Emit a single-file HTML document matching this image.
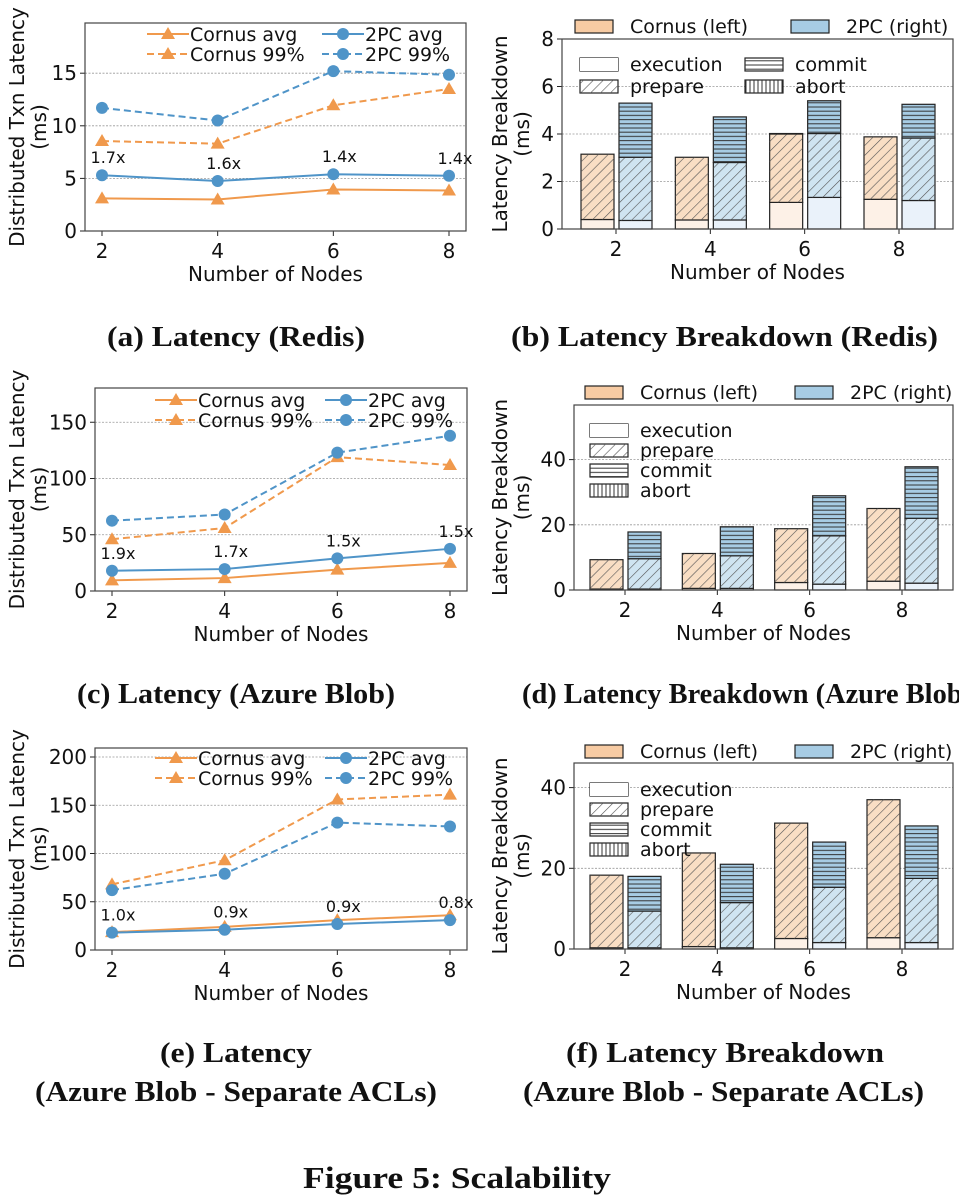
<!DOCTYPE html>
<html><head><meta charset="utf-8"><style>
body{margin:0;background:#fff}
svg text{font-family:"DejaVu Sans","Liberation Sans",sans-serif;fill:#111}
.cap{font-family:"Liberation Serif",serif;font-weight:bold;font-size:28px}
</style></head><body>
<svg id="fig" width="959" height="1199" viewBox="0 0 959 1199" xmlns="http://www.w3.org/2000/svg">
<defs>
<pattern id="hatchD" patternUnits="userSpaceOnUse" width="7" height="7" patternTransform="rotate(45)"><line x1="0" y1="0" x2="0" y2="7" stroke="#555" stroke-width="1.2"/></pattern>
<pattern id="hatchH" patternUnits="userSpaceOnUse" width="4" height="4.2"><line x1="0" y1="2" x2="4" y2="2" stroke="#333" stroke-width="1"/></pattern>
<pattern id="hatchV" patternUnits="userSpaceOnUse" width="4" height="4"><line x1="2" y1="0" x2="2" y2="4" stroke="#333" stroke-width="1"/></pattern>
</defs>
<g id="root"></g>
<text class="cap" lengthAdjust="spacingAndGlyphs" x="107" y="346" textLength="258">(a) Latency (Redis)</text>
<text class="cap" lengthAdjust="spacingAndGlyphs" x="511" y="346" textLength="427">(b) Latency Breakdown (Redis)</text>
<text class="cap" lengthAdjust="spacingAndGlyphs" x="77" y="703" textLength="318">(c) Latency (Azure Blob)</text>
<text class="cap" lengthAdjust="spacingAndGlyphs" x="522" y="703" textLength="450">(d) Latency Breakdown (Azure Blob)</text>
<text class="cap" lengthAdjust="spacingAndGlyphs" x="160" y="1062" textLength="152">(e) Latency</text>
<text class="cap" lengthAdjust="spacingAndGlyphs" x="35" y="1101" textLength="402">(Azure Blob - Separate ACLs)</text>
<text class="cap" lengthAdjust="spacingAndGlyphs" x="566" y="1062" textLength="318">(f) Latency Breakdown</text>
<text class="cap" lengthAdjust="spacingAndGlyphs" x="523" y="1101" textLength="401">(Azure Blob - Separate ACLs)</text>
<text class="cap" lengthAdjust="spacingAndGlyphs" x="303" y="1188" textLength="308" style="font-size:31px">Figure 5: Scalability</text>
</svg>
<script>
// shared categories
const nodes=[2,4,6,8];
// (a) Redis latency
const aCornusAvg=[3.1,3.0,3.95,3.85];
const a2pcAvg=[5.3,4.75,5.4,5.25];
const aCornus99=[8.55,8.3,11.95,13.5];
const a2pc99=[11.7,10.5,15.2,14.85];
const aRatio=["1.7x","1.6x","1.4x","1.4x"];
const aTicks=[0,5,10,15];
// (c) Azure Blob latency
const cCornusAvg=[9.5,11.5,19,25];
const c2pcAvg=[18,19.5,29,37.5];
const cCornus99=[46,56,119,112];
const c2pc99=[62.5,68,123,138];
const cRatio=["1.9x","1.7x","1.5x","1.5x"];
const cTicks=[0,50,100,150];
// (e) Separate ACLs latency
const eCornusAvg=[18.5,24,31,36];
const e2pcAvg=[18,21,27,31];
const eCornus99=[68,93,156,161];
const e2pc99=[62,79,132,128];
const eRatio=["1.0x","0.9x","0.9x","0.8x"];
const eTicks=[0,50,100,150,200];
// (b) Redis breakdown
const bCornusExec=[0.4,0.38,1.12,1.25];
const bCornusPrep=[2.75,2.64,2.88,2.63];
const bCornusCommit=[0,0,0.02,0];
const b2pcExec=[0.36,0.38,1.33,1.2];
const b2pcPrep=[2.66,2.42,2.69,2.63];
const b2pcCommit=[2.28,1.92,1.38,1.42];
const bTicks=[0,2,4,6,8];
// (d) Azure Blob breakdown
const dCornusExec=[0.3,0.5,2.3,2.7];
const dCornusPrep=[9.0,10.7,16.5,22.3];
const dCornusCommit=[0,0,0,0];
const d2pcExec=[0.3,0.5,1.8,2.1];
const d2pcPrep=[9.3,10.0,14.8,19.9];
const d2pcCommit=[8.2,8.9,12.3,15.8];
const dTicks=[0,20,40];
// (f) Separate ACLs breakdown
const fCornusExec=[0.3,0.6,2.6,2.8];
const fCornusPrep=[18.0,23.2,28.6,34.2];
const fCornusCommit=[0,0,0,0];
const f2pcExec=[0.3,0.3,1.6,1.6];
const f2pcPrep=[9.1,11.2,13.7,15.9];
const f2pcCommit=[8.6,9.5,11.2,13.0];
const fTicks=[0,20,40];

const NS="http://www.w3.org/2000/svg";
const root=document.getElementById('root');
function mk(tag,attrs,parent,txt){const e=document.createElementNS(NS,tag);for(const k in attrs)e.setAttribute(k,attrs[k]);if(txt!==undefined)e.textContent=txt;(parent||root).appendChild(e);return e;}
const OR="#F0994C",BL="#4F94C8";

function axes(g,c,ticks,ylab1,ylab2,ylx){
  const ys=v=>c.yb-(v-0)*c.ppu;
  ticks.forEach(t=>{
    if(t>0){const gl=mk('line',{x1:c.x0,x2:c.x1,y1:ys(t),y2:ys(t),stroke:'#999','stroke-width':0.8,'stroke-dasharray':'2,1.5'},g);
    
    }
    mk('line',{x1:c.x0-5,x2:c.x0,y1:ys(t),y2:ys(t),stroke:'#222','stroke-width':1},g);
    const tl=mk('text',{x:c.x0-8,y:ys(t)+7,'text-anchor':'end','font-size':20},g,String(t));
    
    
  });
  nodes.forEach(n=>{
    const x=c.xs(n);
    mk('line',{x1:x,x2:x,y1:c.yb,y2:c.yb+5,stroke:'#222','stroke-width':1},g);
    const tl=mk('text',{x:x,y:c.yb+27,'text-anchor':'middle','font-size':20},g,String(n));
    
    
  });
  const xt=mk('text',{x:(c.x0+c.x1)/2,y:c.yb+50,'text-anchor':'middle','font-size':20},g,'Number of Nodes');
  
  
  const cy=(c.yt+c.yb)/2;
  const y1=mk('text',{x:ylx,y:cy,'text-anchor':'middle','font-size':20,transform:`rotate(-90 ${ylx} ${cy})`},g,ylab1);
  
  
  const lx2=ylx+22;
  const y2=mk('text',{x:lx2,y:cy,'text-anchor':'middle','font-size':20,transform:`rotate(-90 ${lx2} ${cy})`},g,ylab2);
  
  
  return ys;
}
function frame(g,c){const f=mk('rect',{x:c.x0,y:c.yt,width:c.x1-c.x0,height:c.yb-c.yt,fill:'none',stroke:'#444','stroke-width':1.2},g);
  
  }

function marker(g,x,y,col,tri){
  if(tri) return mk('polygon',{points:`${x},${y-7} ${x-7},${y+5} ${x+7},${y+5}`,fill:col},g);
  return mk('circle',{cx:x,cy:y,r:6,fill:col},g);
}
function lineChart(name,c,series,ratio,ticks,leg){
  const g=mk('g',{});
  
  
  const ys=axes(g,c,ticks,'Distributed Txn Latency','(ms)',24);
  series.forEach(s=>{
    const pts=s.v.map((v,i)=>c.xs(nodes[i])+','+ys(v)).join(' ');
    const pl=mk('polyline',{points:pts,fill:'none',stroke:s.col,'stroke-width':2,'stroke-dasharray':s.dash?'7,4':'none'},g);
    
    
    s.v.forEach((v,i)=>{const m=marker(g,c.xs(nodes[i]),ys(v),s.col,s.tri);
      
      });
  });
  ratio.forEach((r,i)=>{
    const t=mk('text',{x:c.xs(nodes[i])+6,y:ys(series[1].v[i])-12,'text-anchor':'middle','font-size':16},g,r);
    
    
  });
  series.forEach((s,k)=>{
    const col=k%2, row=Math.floor(k/2);
    const lx=leg.x[col], ly=leg.y[row];
    const lg=mk('g',{},g);
    
    
    mk('line',{x1:lx,x2:lx+42,y1:ly,y2:ly,stroke:s.col,'stroke-width':2,'stroke-dasharray':s.dash?'7,4':'none'},lg);
    marker(lg,lx+21,ly,s.col,s.tri);
    mk('text',{x:lx+43,y:ly+7,'font-size':19},lg,s.label);
  });
  frame(g,c);
}
function lin(a,b){return n=>a+(n-2)*(b-a)/6;}

lineChart('latency-redis-chart',{x0:85,x1:466,yt:23,yb:231,ppu:10.52,xs:lin(102,449)},
 [{name:'cornus-avg',label:'Cornus avg',v:aCornusAvg,col:OR,tri:1},{name:'2pc-avg',label:'2PC avg',v:a2pcAvg,col:BL},
  {name:'cornus-99',label:'Cornus 99%',v:aCornus99,col:OR,tri:1,dash:1},{name:'2pc-99',label:'2PC 99%',v:a2pc99,col:BL,dash:1}],
 aRatio,aTicks,{x:[147,322],y:[34,54]});
lineChart('latency-azure-chart',{x0:95,x1:467,yt:388,yb:591,ppu:1.125,xs:lin(112,450)},
 [{name:'cornus-avg',label:'Cornus avg',v:cCornusAvg,col:OR,tri:1},{name:'2pc-avg',label:'2PC avg',v:c2pcAvg,col:BL},
  {name:'cornus-99',label:'Cornus 99%',v:cCornus99,col:OR,tri:1,dash:1},{name:'2pc-99',label:'2PC 99%',v:c2pc99,col:BL,dash:1}],
 cRatio,cTicks,{x:[155,325],y:[400,420]});
lineChart('latency-acl-chart',{x0:95,x1:467,yt:748,yb:950,ppu:0.965,xs:lin(112,450)},
 [{name:'cornus-avg',label:'Cornus avg',v:eCornusAvg,col:OR,tri:1},{name:'2pc-avg',label:'2PC avg',v:e2pcAvg,col:BL},
  {name:'cornus-99',label:'Cornus 99%',v:eCornus99,col:OR,tri:1,dash:1},{name:'2pc-99',label:'2PC 99%',v:e2pc99,col:BL,dash:1}],
 eRatio,eTicks,{x:[155,325],y:[758,778]});

const CF={exec:'#FDF1E7',prep:'#F9DEC4',commit:'#F7CBA3',leg:'#F7CBA3'};
const BF={exec:'#EAF2FA',prep:'#CFE4F1',commit:'#A7CCE4',leg:'#A7CCE4'};
function barChart(name,c,cor,tpc,ticks,leg){
  const g=mk('g',{});
  
  
  const ys=axes(g,c,ticks,'Latency Breakdown','(ms)',507);
  [[cor,CF,-35,'cornus'],[tpc,BF,3,'2pc']].forEach(([d,F,off,nm])=>{
    nodes.forEach((n,i)=>{
      let base=0;
      [['exec',d[0],null],['prep',d[1],'url(#hatchD)'],['commit',d[2],'url(#hatchH)']].forEach(([k,arr,pat])=>{
        const v=arr[i]; if(v<=0) return;
        const x=c.xs(n)+off, y=ys(base+v), h=v*c.ppu;
        const r=mk('rect',{x:x,y:y,width:33,height:h,fill:F[k],stroke:'#222','stroke-width':1.2},g);
        
        
        if(pat) mk('rect',{x:x,y:y,width:33,height:h,fill:pat,stroke:'none'},g);
        base+=v;
      });
    });
  });
  frame(g,c);
  [['Cornus (left)',CF.leg,leg.top[0]],['2PC (right)',BF.leg,leg.top[1]]].forEach(([t,f,x])=>{
    const lg=mk('g',{},g);
    
    
    mk('rect',{x:x,y:leg.ty,width:38,height:13,fill:f,stroke:'#222','stroke-width':1.2},lg);
    mk('text',{x:x+55,y:leg.ty+13,'font-size':19},lg,t);
  });
  [['execution','#fff'],['prepare','url(#hatchD)'],['commit','url(#hatchH)'],['abort','url(#hatchV)']].forEach(([t,f],k)=>{
    const p=leg.inner[k];
    const lg=mk('g',{},g);
    
    
    mk('rect',{x:p[0],y:p[1],width:38,height:13,fill:'#fff',stroke:'#222','stroke-width':1.2},lg);
    mk('rect',{x:p[0],y:p[1],width:38,height:13,fill:f,stroke:'none'},lg);
    mk('text',{x:p[0]+50,y:p[1]+13,'font-size':19},lg,t);
  });
}
barChart('breakdown-redis-chart',{x0:562,x1:953,yt:39,yb:229,ppu:23.75,xs:lin(616,899)},
 [bCornusExec,bCornusPrep,bCornusCommit],[b2pcExec,b2pcPrep,b2pcCommit],bTicks,
 {top:[575,791],ty:20,inner:[[580,58],[580,80],[745,58],[745,80]]});
barChart('breakdown-azure-chart',{x0:574,x1:953,yt:405,yb:590,ppu:3.26,xs:lin(625,902)},
 [dCornusExec,dCornusPrep,dCornusCommit],[d2pcExec,d2pcPrep,d2pcCommit],dTicks,
 {top:[585,795],ty:386,inner:[[590,424],[590,444],[590,464],[590,484]]});
barChart('breakdown-acl-chart',{x0:574,x1:953,yt:763,yb:949,ppu:4.035,xs:lin(625,902)},
 [fCornusExec,fCornusPrep,fCornusCommit],[f2pcExec,f2pcPrep,f2pcCommit],fTicks,
 {top:[585,795],ty:745,inner:[[590,783],[590,803],[590,823],[590,843]]});
</script>
</body></html>
